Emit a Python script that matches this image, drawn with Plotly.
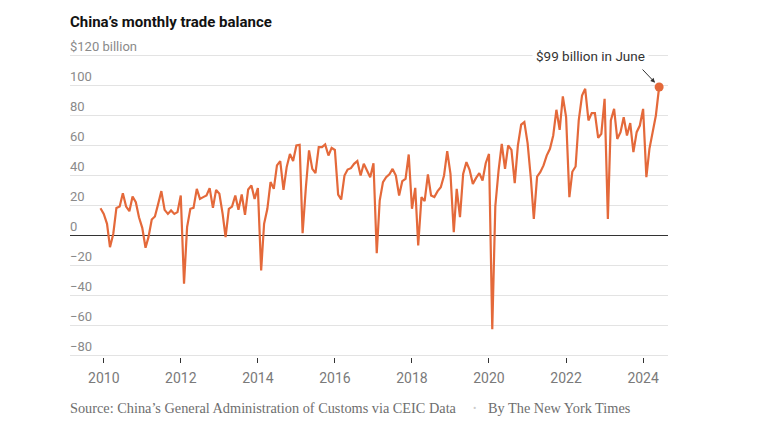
import pandas as pd
import plotly.graph_objects as go

# Monthly trade balance, billions of US dollars
v2009 = [18.2]
v2010 = [14.4, 7.8, -7.8, 1.0, 18.4, 19.3, 28.2, 19.3, 16.2, 26.0, 22.2, 12.2]
v2011 = [5.1, -8.2, -1.1, 10.7, 12.7, 21.1, 29.6, 17.1, 14.4, 16.7, 14.4, 15.6]
v2012 = [26.7, -32.2, 5.6, 17.8, 18.4, 31.1, 24.4, 25.6, 26.7, 31.6, 18.4, 30.4]
v2013 = [27.8, 14.4, -1.1, 17.8, 19.3, 26.7, 17.1, 27.3, 13.8, 30.7, 33.3, 24.4]
v2014 = [31.6, -23.3, 7.8, 17.8, 35.6, 31.1, 46.7, 49.6, 30.4, 45.6, 54.4, 49.6]
v2015 = [60.0, 60.4, 1.6, 32.0, 56.7, 44.4, 41.6, 58.9, 58.9, 60.7, 53.3, 58.4]
v2016 = [57.0, 27.3, 24.0, 40.0, 44.0, 44.9, 47.8, 49.6, 40.0, 47.8, 42.7, 38.9]
v2017 = [48.2, -11.8, 23.3, 35.6, 38.9, 40.8, 44.4, 40.0, 26.7, 36.2, 37.8, 54.0]
v2018 = [17.8, 31.8, -6.7, 25.6, 22.9, 40.7, 26.7, 25.6, 29.6, 32.2, 40.0, 56.2]
v2019 = [41.1, 2.2, 31.1, 12.2, 41.1, 48.9, 43.8, 34.4, 38.4, 41.6, 36.7, 48.2]
v2020 = [54.4, -62.5, 19.5, 43.5, 61.1, 44.4, 60.0, 57.1, 34.9, 60.0, 74.0, 75.6]
v2021 = [61.6, 38.0, 11.1, 39.3, 42.2, 46.7, 53.3, 57.8, 66.7, 83.8, 70.4, 92.7]
v2022 = [78.9, 25.6, 42.5, 46.0, 77.0, 93.3, 97.8, 76.7, 81.6, 81.6, 65.1, 67.8]
v2023 = [91.1, 11.1, 76.7, 84.4, 64.4, 68.9, 78.9, 66.7, 74.9, 55.6, 68.9, 73.3]
v2024 = [84.4, 38.9, 57.8, 70.0, 80.0, 99.0]

values = (v2009 + v2010 + v2011 + v2012 + v2013 + v2014 + v2015 + v2016 +
          v2017 + v2018 + v2019 + v2020 + v2021 + v2022 + v2023 + v2024)
months = pd.date_range("2009-12-01", periods=len(values), freq="MS")

x_tick_years = [2010, 2012, 2014, 2016, 2018, 2020, 2022, 2024]
y_tick_values = [-80, -60, -40, -20, 0, 20, 40, 60, 80, 100, 120]
y_tick_labels = ["−80", "−60", "−40", "−20", "0", "20", "40", "60", "80", "100", "$120 billion"]

title_text = "China’s monthly trade balance"
source_text = "Source: China’s General Administration of Customs via CEIC Data"
byline_text = "By The New York Times"
callout_text = "$99 billion in June"

ORANGE = "#e4693a"
SANS = "Roboto, 'Noto Sans', Arial, sans-serif"
SERIF = "'Liberation Serif', 'DejaVu Serif', serif"

L, R, T, B = 70, 104, 54, 80
W, H = 772, 437
pw = W - L - R
ph = H - T - B


def px_to_paper_x(px):
    return (px - L) / pw


def px_to_paper_y(py):
    return (H - B - py) / ph


fig = go.Figure()
fig.add_trace(go.Scatter(
    x=months, y=values, mode="lines",
    line=dict(color=ORANGE, width=2.2),
    hoverinfo="skip", showlegend=False,
))
fig.add_trace(go.Scatter(
    x=[months[-1]], y=[values[-1]], mode="markers",
    marker=dict(color=ORANGE, size=9),
    hoverinfo="skip", showlegend=False,
))

annotations = []
for v, lab in zip(y_tick_values, y_tick_labels):
    annotations.append(dict(
        x=0, xref="paper", y=v, yref="y", text=lab, showarrow=False,
        xanchor="left", yanchor="bottom", xshift=-2, yshift=0,
        font=dict(family=SANS, size=13, color="#8a8a8a"),
    ))

# callout text sitting on the top gridline
annotations.append(dict(
    x=px_to_paper_x(649), xref="paper", y=120, yref="y", text=callout_text,
    showarrow=False, xanchor="right", yanchor="middle", bgcolor="white",
    borderpad=3, font=dict(family=SANS, size=13.5, color="#333333"),
))
# arrow toward the last point
annotations.append(dict(
    x=months[-1], y=values[-1], xref="x", yref="y", text="",
    showarrow=True, ax=-18, ay=-19, arrowhead=2, arrowsize=0.9,
    arrowwidth=1, arrowcolor="#333333", standoff=6,
))
src_y = px_to_paper_y(408)
annotations.append(dict(
    x=px_to_paper_x(68), xref="paper", y=src_y, yref="paper", text=source_text,
    showarrow=False, xanchor="left", yanchor="middle",
    font=dict(family=SERIF, size=14.3, color="#6e6e6e"),
))
annotations.append(dict(
    x=px_to_paper_x(474.5), xref="paper", y=src_y, yref="paper", text="•",
    showarrow=False, xanchor="center", yanchor="middle",
    font=dict(family=SANS, size=10, color="#cccccc"),
))
annotations.append(dict(
    x=px_to_paper_x(485.5), xref="paper", y=src_y, yref="paper", text=byline_text,
    showarrow=False, xanchor="left", yanchor="middle",
    font=dict(family=SERIF, size=14.3, color="#6e6e6e"),
))

fig.update_layout(
    width=W, height=H,
    margin=dict(l=L, r=R, t=T, b=B, pad=0),
    paper_bgcolor="white", plot_bgcolor="white",
    title=dict(
        text="<b>" + title_text + "</b>", x=70 / W, xanchor="left",
        y=1 - 22 / H, yanchor="middle",
        font=dict(family=SANS, size=15, color="#121212"),
    ),
    xaxis=dict(
        type="date", range=["2009-02-15", "2024-08-24"],
        tickvals=[pd.Timestamp(f"{y}-01-01") for y in x_tick_years],
        ticktext=[str(y) for y in x_tick_years],
        ticks="outside", ticklen=5, tickwidth=1, tickcolor="#333333",
        ticklabelstandoff=3,
        tickfont=dict(family=SANS, size=14, color="#7a7a7a"),
        showgrid=False, zeroline=False, showline=False, fixedrange=True,
    ),
    yaxis=dict(
        range=[-81, 121], tickvals=y_tick_values, showticklabels=False,
        showgrid=True, gridcolor="#e3e3e3", gridwidth=1,
        zeroline=True, zerolinecolor="#333333", zerolinewidth=1,
        showline=False, ticks="", fixedrange=True,
    ),
    annotations=annotations,
)

fig.write_html(
    "out.html",
    config={"displayModeBar": False},
    post_script="document.body.style.margin='0';document.body.style.padding='0';",
)
